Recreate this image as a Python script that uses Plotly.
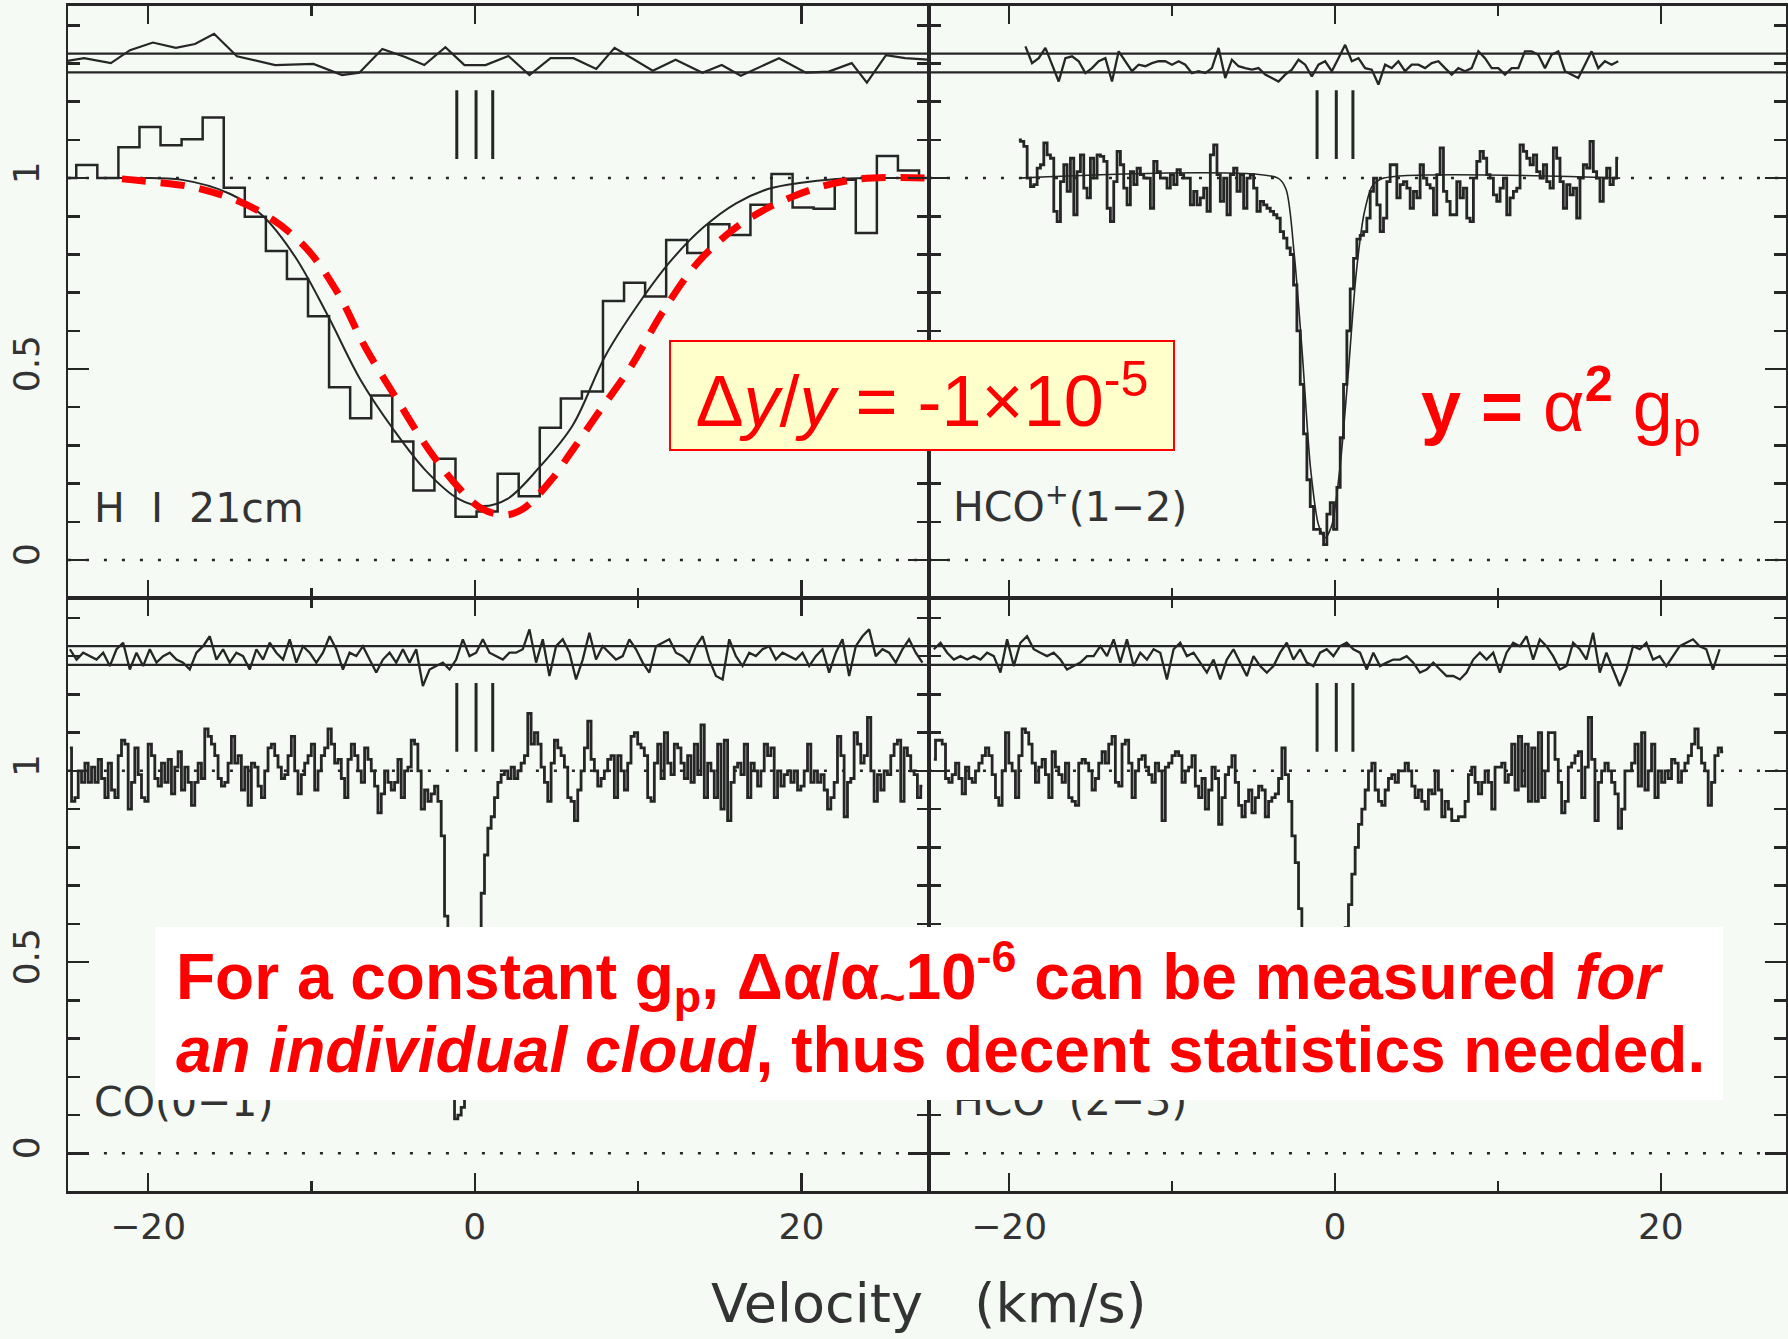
import plotly.graph_objects as go

W, H = 1788, 1339
BG = "#F5FAF5"
INK = "#262626"
RED = "#FF0000"

# ---------------- data ----------------
MARK_V = [-1.1, 0.08, 1.1]          # velocity components (|||)
MARK_Y = [1.05, 1.23]
RES_BAND = [1.277, 1.326]           # residual reference lines

# H I 21cm (top-left) : binned spectrum
HI_V0, HI_DV = -25.045, 1.29
HI_OBS = [1.000, 1.034, 1.000, 1.081, 1.134, 1.086, 1.102, 1.159, 0.975, 0.899,
          0.809, 0.736, 0.638, 0.452, 0.371, 0.431, 0.310, 0.182, 0.265, 0.113,
          0.127, 0.226, 0.167, 0.346, 0.423, 0.441, 0.678, 0.726, 0.690, 0.838,
          0.804, 0.879, 0.851, 0.930, 1.011, 0.923, 0.920, 0.996, 0.856, 1.058,
          1.020, 1.000]
HI_FIT_V = [-22.0, -21.0, -18.0, -15.0, -13.0, -11.0, -9.0, -7.0, -5.0, -3.0, -1.0, 0.5,
            2.0, 4.0, 6.0, 8.0, 10.0, 12.0, 14.0, 16.0, 18.0, 20.0, 22.0, 24.0, 27.8]
HI_FIT_Y = [1.0, 1.0, 0.996, 0.959, 0.902, 0.794, 0.640, 0.472, 0.343, 0.234, 0.160, 0.141,
            0.160, 0.245, 0.353, 0.535, 0.669, 0.783, 0.871, 0.934, 0.972, 0.988, 0.997, 1.0, 1.0]
HI_SHIFT_V = [-21.6, -20.4, -16.9, -13.4, -10.5, -8.4, -6.7, -4.8, -2.8, -1.0, 0.4, 1.9,
              3.0, 4.75, 5.8, 7.4, 9.6, 11.5, 13.7, 16.3, 19.6, 23.2, 27.8]
HI_SHIFT_Y = [0.998, 0.993, 0.973, 0.918, 0.825, 0.700, 0.557, 0.423, 0.288, 0.190, 0.135, 0.118,
              0.135, 0.213, 0.276, 0.375, 0.509, 0.649, 0.781, 0.880, 0.954, 0.996, 1.0]
HI_RES_V = [-24.93, -23.92, -22.28, -21.11, -19.71, -18.30, -17.13, -15.96, -14.56, -12.22,
            -9.88, -8.12, -7.07, -5.66, -4.26, -3.09, -1.80, -0.63, 0.66, 2.06,
            3.35, 4.64, 6.04, 7.44, 8.56, 10.9, 12.3, 13.94, 15.12, 16.29,
            18.63, 20.27, 21.67, 23.08, 24.01, 25.18, 26.35, 27.75]
HI_RES_Y = [1.307, 1.314, 1.301, 1.335, 1.355, 1.341, 1.351, 1.378, 1.319, 1.296,
            1.299, 1.270, 1.276, 1.338, 1.317, 1.296, 1.343, 1.296, 1.296, 1.320,
            1.270, 1.314, 1.314, 1.286, 1.341, 1.281, 1.310, 1.276, 1.296, 1.268,
            1.314, 1.276, 1.279, 1.301, 1.250, 1.322, 1.314, 1.310]

# HCO+(1-2) (top-right)
HCO12_V0, HCO12_DV = -19.405, 0.2044
HCO12_OBS = [1.100, 1.096, 1.083, 1.000, 0.978, 0.983, 1.026, 1.035, 1.092, 1.061,
             1.052, 0.913, 0.886, 0.991, 1.035, 0.965, 1.052, 0.904, 1.017, 1.061,
             0.974, 0.948, 1.052, 1.000, 1.061, 1.057, 1.044, 0.921, 0.886, 0.991,
             1.070, 1.035, 0.974, 0.930, 1.017, 0.983, 1.026, 1.009, 1.000, 1.000,
             0.921, 1.044, 1.017, 1.000, 1.000, 0.974, 1.009, 0.983, 1.022, 1.009,
             1.000, 1.000, 0.930, 0.965, 0.930, 0.948, 0.974, 0.913, 1.061, 1.087,
             1.009, 0.939, 1.000, 0.904, 1.009, 1.026, 0.965, 1.009, 0.921, 1.000,
             1.009, 0.974, 0.913, 0.939, 0.930, 0.921, 0.913, 0.904, 0.895, 0.860,
             0.843, 0.817,
             0.80, 0.72, 0.60, 0.46, 0.33, 0.21, 0.14, 0.08, 0.08, 0.07,
             0.04, 0.12, 0.15, 0.08, 0.19, 0.32, 0.46, 0.60, 0.71, 0.79, 0.84,
             0.85,
             0.860, 0.895, 0.965, 1.000, 0.930, 0.860, 0.895, 0.991, 1.035, 1.035,
             0.948, 0.983, 0.991, 0.974, 0.921, 0.965, 0.948, 1.035, 1.000, 0.983,
             0.974, 0.904, 1.009, 1.079, 0.965, 0.939, 0.904, 0.904, 0.991, 0.948,
             0.974, 0.895, 0.886, 1.000, 1.044, 1.070, 1.052, 1.009, 1.000, 0.956,
             0.939, 0.974, 1.000, 0.904, 0.948, 0.965, 0.974, 1.087, 1.070, 1.052,
             1.035, 1.061, 1.017, 1.000, 1.035, 0.991, 0.974, 1.079, 1.052, 0.991,
             0.921, 0.983, 0.956, 0.974, 0.895, 1.000, 1.035, 1.026, 1.096, 1.017,
             1.000, 0.939, 1.000, 1.026, 0.983, 1.000, 1.052]
HCO12_FIT_V = [-19.4, -3.5, -3.0, -2.5, -2.0, -1.5, -1.0, -0.6, -0.2, 0.3, 0.8, 1.3, 1.8, 2.3, 3.0, 17.5]
HCO12_FIT_Y = [1.0, 1.0, 0.97, 0.80, 0.536, 0.24, 0.09, 0.058, 0.09, 0.24, 0.483, 0.75, 0.91, 0.98, 1.0, 1.0]
HCO12_RES_V0, HCO12_RES_DV = -19.0, 0.4088
HCO12_RES = [1.345, 1.301, 1.314, 1.341, 1.297, 1.253, 1.314, 1.319, 1.306, 1.275,
             1.288, 1.306, 1.314, 1.253, 1.332, 1.306, 1.280, 1.297, 1.293, 1.301,
             1.306, 1.306, 1.297, 1.306, 1.297, 1.275, 1.280, 1.275, 1.288, 1.341,
             1.262, 1.310, 1.293, 1.288, 1.284, 1.288, 1.271, 1.262, 1.253, 1.271,
             1.284, 1.310, 1.297, 1.266,
             1.297, 1.306, 1.280, 1.314, 1.349, 1.306, 1.314, 1.288, 1.284, 1.245,
             1.297, 1.288, 1.306, 1.280, 1.297, 1.297, 1.288, 1.301, 1.306, 1.288,
             1.271, 1.288, 1.280, 1.288, 1.332, 1.314, 1.288, 1.288, 1.271, 1.288,
             1.288, 1.332, 1.332, 1.323, 1.288, 1.323, 1.332, 1.280, 1.271, 1.262,
             1.297, 1.332, 1.288, 1.306, 1.297, 1.306]

# CO(0-1) (bottom-left)
CO01_V0, CO01_DV = -24.79, 0.2039
CO01_OBS = [1.06, 0.92, 0.93, 1.00, 0.97, 1.02, 0.97, 1.01, 0.97, 1.03,
            0.98, 0.93, 1.02, 0.95, 0.93, 1.04, 1.08, 1.07, 0.90, 0.97,
            1.06, 0.99, 0.93, 0.92, 1.07, 1.04, 0.98, 0.96, 1.02, 0.97,
            1.03, 0.94, 1.01, 1.05, 0.95, 1.01, 0.97, 0.91, 0.97, 1.02,
            0.98, 1.11, 1.09, 1.07, 1.04, 0.98, 0.96, 0.97, 1.02, 1.09,
            1.02, 1.04, 0.95, 1.01, 0.91, 1.02, 1.01, 0.96, 0.93, 1.00,
            1.06, 1.07, 1.04, 1.01, 0.98, 0.99, 1.04, 1.09, 1.00, 0.94,
            0.99, 1.02, 1.04, 1.07, 0.95, 1.00, 1.04, 1.06, 1.11, 1.07,
            1.02, 1.03, 0.98, 0.93, 1.03, 1.07, 1.04, 1.00, 0.97, 1.06,
            1.03, 1.00, 0.96, 0.89, 0.94, 1.00, 0.97, 0.95, 0.97, 1.03,
            0.93, 1.00, 1.01, 1.08, 1.07, 1.00, 0.90, 0.95, 0.92, 0.94,
            0.96, 0.92, 0.83,
            0.62, 0.35, 0.15, 0.09, 0.10, 0.12, 0.15, 0.22, 0.35, 0.45, 0.58, 0.68, 0.78,
            0.85, 0.88, 0.93, 0.97, 0.99, 1.00, 0.98, 1.01, 0.98, 1.00,
            1.02, 1.04, 1.15, 1.07, 1.10, 1.07, 1.01, 0.97, 0.92, 1.02,
            1.08, 1.06, 1.04, 1.01, 0.93, 0.92, 0.87, 0.95, 1.00, 1.06,
            1.13, 1.03, 1.00, 0.96, 0.98, 1.00, 1.03, 1.04, 0.93, 1.04,
            1.00, 0.95, 1.02, 1.09, 1.10, 1.07, 1.06, 1.04, 0.93, 0.92,
            1.02, 1.07, 0.98, 1.10, 1.02, 0.99, 1.07, 1.06, 1.02, 0.98,
            1.04, 0.97, 1.07, 0.99, 1.12, 0.93, 1.02, 1.00, 0.93, 1.07,
            0.90, 1.08, 0.87, 0.97, 1.01, 1.02, 0.99, 1.07, 0.93, 1.02,
            1.00, 0.96, 1.00, 1.07, 1.04, 1.06, 0.93, 1.00, 0.96, 0.99,
            1.00, 0.97, 1.00, 0.95, 0.96, 1.00, 1.07, 0.97, 1.00, 0.97,
            0.99, 0.95, 0.90, 0.93, 0.97, 1.09, 1.04, 0.88, 0.97, 0.98,
            1.10, 1.07, 1.02, 1.04, 1.14, 1.00, 0.92, 0.99, 0.95, 1.00,
            0.99, 1.04, 1.07, 1.08, 0.92, 1.06, 1.04, 1.00, 0.99, 0.93,
            0.96]
CO01_RES_V0, CO01_RES_DV = -24.79, 0.4078
CO01_RES = [1.318, 1.291, 1.309, 1.300, 1.291, 1.309, 1.274, 1.318, 1.335, 1.265,
            1.309, 1.274, 1.318, 1.283, 1.300, 1.309, 1.291, 1.283, 1.265, 1.309,
            1.326, 1.352, 1.291, 1.318, 1.283, 1.309, 1.300, 1.265, 1.318, 1.291,
            1.335, 1.309, 1.291, 1.344, 1.283, 1.326, 1.309, 1.283, 1.309, 1.352,
            1.318, 1.265, 1.309, 1.300, 1.326, 1.291, 1.257, 1.291, 1.309, 1.283,
            1.318, 1.283, 1.318, 1.222, 1.265, 1.274, 1.283, 1.265, 1.291, 1.344,
            1.300, 1.309, 1.344,
            1.309,
            1.300, 1.291, 1.309, 1.309, 1.318, 1.370, 1.283, 1.344, 1.248, 1.326,
            1.344, 1.309, 1.239, 1.291, 1.361, 1.291, 1.326, 1.309, 1.291, 1.300,
            1.344, 1.318, 1.283, 1.257, 1.326, 1.335, 1.344, 1.309, 1.300, 1.283,
            1.326, 1.352, 1.291, 1.248, 1.239, 1.344, 1.300, 1.274, 1.309, 1.300,
            1.318, 1.326, 1.291, 1.309, 1.300, 1.291, 1.309, 1.274, 1.300, 1.318,
            1.257, 1.309, 1.344, 1.248, 1.326, 1.352, 1.370, 1.300, 1.318, 1.309,
            1.283, 1.318, 1.344, 1.309, 1.283]

# HCO+(2-3) (bottom-right)
HCO23_V0, HCO23_DV = -24.62, 0.2044
HCO23_OBS = [1.03, 1.08, 1.08, 1.07, 0.98, 0.97, 0.99, 1.02, 0.98, 0.94,
             1.01, 0.98, 0.97, 1.00, 1.02, 1.04, 1.06, 1.04, 0.99, 0.93,
             0.91, 1.00, 1.10, 1.02, 1.00, 0.93, 1.04, 1.11, 1.10, 1.07,
             1.02, 0.97, 1.01, 1.03, 0.99, 0.93, 1.05, 1.01, 0.99, 0.97,
             1.02, 0.93, 0.92, 0.91, 1.02, 1.03, 1.02, 1.00, 0.95, 0.98,
             1.02, 1.05, 1.02, 1.07, 1.09, 0.97, 0.96, 1.07, 1.08, 1.02,
             0.93, 1.00, 1.03, 1.04, 1.01, 0.99, 0.97, 1.02, 1.00, 0.87,
             1.01, 1.02, 1.04, 1.05, 1.04, 0.97, 1.00, 1.01, 1.04, 0.96,
             0.93, 0.98, 0.90, 0.95, 1.01, 0.98, 0.86, 0.93, 0.99, 1.01,
             1.04, 0.97, 0.91, 0.88, 0.92, 0.95, 0.89, 0.93, 0.96, 0.95,
             0.88, 0.92, 0.93, 0.94, 0.98, 1.06, 0.99, 0.92, 0.83,
             0.76, 0.64, 0.50, 0.38, 0.29, 0.23, 0.20, 0.18, 0.18, 0.19, 0.21,
             0.25, 0.32, 0.42, 0.52, 0.59, 0.65, 0.73, 0.80, 0.86, 0.90, 0.95,
             1.00, 1.02, 0.95, 0.92, 0.91, 0.95, 0.98, 0.99, 0.97, 1.00,
             1.00, 1.02, 1.00, 0.96, 0.93, 0.95, 0.92, 0.90, 0.95, 0.94,
             1.00, 0.95, 0.88, 0.92, 0.90, 0.87, 0.87, 0.88, 0.88, 0.92,
             0.99, 1.01, 0.97, 0.94, 0.97, 1.00, 0.97, 0.90, 1.01, 1.01,
             1.02, 0.97, 0.99, 1.07, 0.95, 1.09, 0.96, 1.07, 0.92, 1.06,
             0.92, 1.10, 0.93, 1.00, 1.10, 1.10, 1.03, 0.97, 0.89, 0.92,
             1.01, 1.02, 1.04, 1.05, 0.93, 1.01, 1.14, 1.03, 0.87, 0.97,
             1.00, 1.02, 1.00, 0.97, 0.94, 0.85, 0.90, 1.00, 1.00, 1.02,
             1.07, 0.96, 1.10, 0.95, 1.00, 1.07, 0.93, 1.00, 0.97, 1.00,
             0.98, 1.03, 1.02, 0.97, 1.00, 1.02, 1.04, 1.07, 1.11, 1.06,
             1.02, 1.00, 0.91, 0.97, 1.04, 1.06, 1.05]
HCO23_RES_V0, HCO23_RES_DV = -24.62, 0.4087
HCO23_RES = [1.318, 1.335, 1.309, 1.291, 1.300, 1.291, 1.300, 1.291, 1.309, 1.300,
             1.257, 1.344, 1.274, 1.335, 1.352, 1.318, 1.309, 1.300, 1.309, 1.291,
             1.265, 1.274, 1.283, 1.300, 1.300, 1.326, 1.300, 1.344, 1.283, 1.344,
             1.274, 1.309, 1.291, 1.318, 1.309, 1.239, 1.318, 1.335, 1.300, 1.309,
             1.283, 1.257, 1.291, 1.239, 1.291, 1.318, 1.283, 1.248, 1.300, 1.274,
             1.257, 1.274, 1.309, 1.335, 1.291, 1.318, 1.283, 1.274, 1.309, 1.318,
             1.300, 1.326, 1.335, 1.318, 1.309, 1.265, 1.309, 1.274, 1.283, 1.291,
             1.291, 1.300, 1.283, 1.257, 1.265, 1.283, 1.265, 1.248, 1.248, 1.239,
             1.257, 1.291, 1.309, 1.291, 1.309, 1.257, 1.309, 1.335, 1.326, 1.352,
             1.291, 1.344, 1.326, 1.300, 1.265, 1.274, 1.335, 1.318, 1.291, 1.361,
             1.257, 1.309, 1.265, 1.222, 1.265, 1.326, 1.318, 1.335, 1.291, 1.300,
             1.274, 1.300, 1.326, 1.335, 1.344, 1.326, 1.318, 1.265, 1.318]

X_MAJOR = [-20, 0, 20]
X_MAJOR_TEXT = ["\u221220", "0", "20"]
X_MINOR = [-10, 10]
Y_MAJOR = [0, 0.5, 1]
Y_MAJOR_TEXT = ["0", "0.5", "1"]

# ---------------- figure ----------------
fig = go.Figure()


def grid(v0, dv, n):
    return [v0 + i * dv for i in range(n)]


def line(xs, ys, ax, width=2.2, color=INK, shape="linear", dash=None, smoothing=None):
    ln = dict(width=width, color=color, shape=shape)
    if dash:
        ln["dash"] = dash
    if smoothing is not None:
        ln["smoothing"] = smoothing
    fig.add_trace(go.Scatter(x=xs, y=ys, mode="lines", line=ln,
                             xaxis="x" + ax, yaxis="y" + ax,
                             showlegend=False, hoverinfo="skip"))


def markers(ax):
    xs, ys = [], []
    for v in MARK_V:
        xs += [v, v, None]
        ys += [MARK_Y[0], MARK_Y[1], None]
    line(xs, ys, ax, width=3)


SPEC_W = 2.8
RES_W = 2.3

# panel 1 : H I
line(HI_RES_V, HI_RES_Y, "", width=2.2)
line(grid(HI_V0, HI_DV, len(HI_OBS)), HI_OBS, "", width=2.5, shape="hvh")
line(HI_FIT_V, HI_FIT_Y, "", width=2, shape="spline", smoothing=1.0)
line(HI_SHIFT_V, HI_SHIFT_Y, "", width=7, color=RED, shape="spline",
     dash="24px,15px", smoothing=1.0)
markers("")

# panel 2 : HCO+(1-2)
line(grid(HCO12_RES_V0, HCO12_RES_DV, len(HCO12_RES)), HCO12_RES, "2", width=RES_W)
line(grid(HCO12_V0, HCO12_DV, len(HCO12_OBS)), HCO12_OBS, "2", width=SPEC_W, shape="hvh")
line(HCO12_FIT_V, HCO12_FIT_Y, "2", width=1.6, shape="spline", smoothing=0.8)
markers("2")

# panel 3 : CO(0-1)
line(grid(CO01_RES_V0, CO01_RES_DV, len(CO01_RES)), CO01_RES, "3", width=RES_W)
line(grid(CO01_V0, CO01_DV, len(CO01_OBS)), CO01_OBS, "3", width=SPEC_W, shape="hvh")
markers("3")

# panel 4 : HCO+(2-3)
line(grid(HCO23_RES_V0, HCO23_RES_DV, len(HCO23_RES)), HCO23_RES, "4", width=RES_W)
line(grid(HCO23_V0, HCO23_DV, len(HCO23_OBS)), HCO23_OBS, "4", width=SPEC_W, shape="hvh")
markers("4")

# ---------------- axes ----------------
XL = [68 / W, 930 / W]
XR = [930 / W, 1.0]
YT = [1 - 598 / H, 1 - 5.5 / H]
YB = [1 - 1191.4 / H, 1 - 598 / H]
RNG_L = [-24.91, 27.81]
RNG_R = [-24.92, 27.68]
RNG_Y = [-0.0996, 1.452]
TICKFONT = dict(family="DejaVu Sans", size=36, color="#333333")
AXW = 2.2


def xax(domain, rng, labels, anchor):
    return dict(domain=domain, range=rng, anchor=anchor, showline=True, linecolor=INK,
                linewidth=AXW, mirror="ticks", ticks="inside", ticklen=18, tickwidth=2.5,
                tickcolor=INK, tickmode="array", tickvals=X_MAJOR, ticktext=X_MAJOR_TEXT,
                minor=dict(tickmode="array", tickvals=X_MINOR, ticklen=10, tickwidth=2.5,
                           tickcolor=INK, ticks="inside", showgrid=False),
                showgrid=False, zeroline=False, showticklabels=labels, tickfont=TICKFONT,
                ticklabelstandoff=2, fixedrange=True)


def yax(domain, labels, anchor):
    return dict(domain=domain, range=RNG_Y, anchor=anchor, showline=True, linecolor=INK,
                linewidth=AXW, mirror="ticks", ticks="inside", ticklen=21, tickwidth=2.5,
                tickcolor=INK, tickmode="array", tickvals=Y_MAJOR, ticktext=Y_MAJOR_TEXT,
                minor=dict(tickmode="linear", tick0=0, dtick=0.1, ticklen=12, tickwidth=2.5,
                           tickcolor=INK, ticks="inside", showgrid=False),
                showgrid=False, zeroline=False, showticklabels=labels, tickfont=TICKFONT,
                tickangle=-90, ticklabelstandoff=12, fixedrange=True)


shapes = []
for ax in ["", "2", "3", "4"]:
    for yv in [0, 1]:
        shapes.append(dict(type="line", xref="x%s domain" % ax, yref="y" + ax,
                           x0=0, x1=1, y0=yv, y1=yv, layer="below",
                           line=dict(color=INK, width=2.5, dash="3px,15px")))
    for yv in RES_BAND:
        shapes.append(dict(type="line", xref="x%s domain" % ax, yref="y" + ax,
                           x0=0, x1=1, y0=yv, y1=yv, layer="below",
                           line=dict(color=INK, width=2.2)))


def px(x):
    return x / W


def py(y):
    return 1 - y / H


LABFONT = dict(family="DejaVu Sans", size=41, color="#333333")
REDFONT = dict(family="Liberation Sans", size=72, color=RED)
ann = [
    dict(text="H\u00a0\u00a0I\u00a0\u00a021cm", x=px(92), y=py(508), xanchor="left",
         yanchor="middle", font=LABFONT),
    dict(text="HCO<sup>+</sup>(1\u22122)", x=px(952), y=py(504), xanchor="left",
         yanchor="middle", font=LABFONT),
    dict(text="CO(0\u22121)", x=px(92), y=py(1102), xanchor="left",
         yanchor="middle", font=LABFONT),
    dict(text="HCO<sup>+</sup>(2\u22123)", x=px(952), y=py(1098), xanchor="left",
         yanchor="middle", font=LABFONT),
    dict(text="Velocity\u00a0\u00a0\u00a0(km/s)", x=px(930), y=py(1303), xanchor="center",
         yanchor="middle", font=dict(family="DejaVu Sans", size=54, color="#333333")),
    dict(text="\u0394<i>y</i>/<i>y</i> = -1\u00d710<sup>-5</sup>", x=px(923), y=py(395.5),
         xanchor="center", yanchor="middle", font=REDFONT, bgcolor="#FFFFCC",
         bordercolor=RED, borderwidth=2, borderpad=0, width=502, height=107),
    dict(text="<b>y = </b>\u03b1<sup><b>2</b></sup> g<sub>p</sub>", x=px(1421), y=py(406),
         xanchor="left", yanchor="middle", font=REDFONT),
    dict(text="\u00a0", x=px(155), y=py(927), xanchor="left", yanchor="top",
         bgcolor="#FFFFFF", borderwidth=0, borderpad=0, width=1568, height=173,
         font=dict(size=10)),
    dict(text="<b>For a constant g<sub>p</sub>, \u0394\u03b1/\u03b1<sub>~</sub>10<sup>-6</sup>"
              " can be measured <i>for</i></b>",
         x=px(174), y=py(976), xanchor="left", yanchor="middle",
         font=dict(family="Liberation Sans", size=64, color=RED)),
    dict(text="<b><i>an individual cloud</i>, thus decent statistics needed.</b>",
         x=px(174), y=py(1050), xanchor="left", yanchor="middle",
         font=dict(family="Liberation Sans", size=64, color=RED)),
]
for a in ann:
    a.setdefault("showarrow", False)
    a.setdefault("xref", "paper")
    a.setdefault("yref", "paper")

fig.update_layout(
    width=W, height=H, autosize=False,
    margin=dict(l=0, r=0, t=0, b=0),
    paper_bgcolor=BG, plot_bgcolor=BG, showlegend=False,
    xaxis=xax(XL, RNG_L, False, "y"),
    yaxis=yax(YT, True, "x"),
    xaxis2=xax(XR, RNG_R, False, "y2"),
    yaxis2=yax(YT, False, "x2"),
    xaxis3=xax(XL, RNG_L, True, "y3"),
    yaxis3=yax(YB, True, "x3"),
    xaxis4=xax(XR, RNG_R, True, "y4"),
    yaxis4=yax(YB, False, "x4"),
    shapes=shapes,
    annotations=ann,
)

fig.write_html("out.html",
               config={"displayModeBar": False, "staticPlot": True},
               post_script="document.body.style.margin='0px';"
                           "document.body.style.background='%s';" % BG)
